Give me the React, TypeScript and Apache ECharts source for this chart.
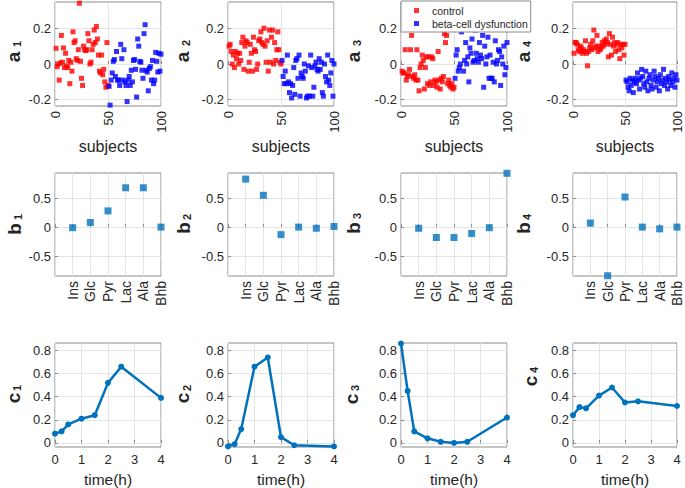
import React, { useEffect, useRef } from "react";
import * as echarts from "echarts";

// ---------- data ----------
const a1Control = [0.088, -0.015, 0.0, -0.09, 0.005, 0.16, 0.01, 0.09, -0.02, 0.06, -0.01, -0.02, 0.02, -0.11, 0.01, -0.04, 0.18, 0.12, 0.13, 0.03, 0.02, 0.08, 0.34, 0.015, -0.08, -0.12, 0.1, 0.08, 0.075, 0.08, 0.17, 0.13, 0.0, 0.01, 0.08, 0.11, 0.19, 0.12, 0.21, 0.14, 0.05, -0.04, -0.05, 0.05, -0.06, -0.03, -0.1, -0.13, 0.12, -0.12];
const a1Dysfunction = [-0.125, -0.23, -0.09, -0.05, 0.015, 0.025, -0.07, 0.07, -0.09, -0.09, -0.12, 0.11, 0.03, -0.09, 0.08, -0.1, -0.12, -0.21, -0.09, -0.07, -0.12, -0.035, -0.1, 0.02, 0.025, -0.03, -0.185, 0.14, 0.1, 0.015, 0.01, -0.035, -0.08, 0.17, 0.22, -0.035, -0.045, -0.15, -0.025, -0.015, -0.09, 0.02, -0.11, -0.09, 0.065, 0.015, -0.045, 0.06, -0.04, 0.055];
const a2Control = [0.10, 0.11, 0.07, 0.00, 0.05, -0.02, 0.07, 0.03, 0.06, 0.0, 0.06, 0.02, 0.12, 0.15, -0.03, 0.10, 0.13, 0.12, -0.04, 0.01, 0.11, 0.06, -0.04, 0.15, 0.08, 0.07, -0.03, 0.0, 0.13, 0.14, 0.18, 0.12, 0.11, 0.2, 0.1, 0.01, 0.13, -0.04, 0.19, 0.01, 0.15, 0.19, 0.0, 0.12, 0.02, 0.08, 0.18, 0.08, 0.01, 0.0];
const a2Dysfunction = [0.02, -0.07, -0.11, -0.04, -0.11, 0.05, -0.1, -0.16, -0.11, -0.19, -0.12, -0.02, -0.17, 0.02, 0.03, -0.08, 0.05, -0.18, -0.05, -0.07, -0.08, 0.0, -0.04, -0.19, -0.18, -0.01, -0.18, 0.05, -0.02, -0.18, -0.13, -0.01, 0.01, -0.03, -0.04, 0.03, -0.03, 0.01, -0.16, -0.18, 0.0, -0.07, -0.1, 0.05, -0.09, -0.12, -0.05, 0.02, -0.18, 0.0];
const a3Control = [-0.04, -0.05, -0.05, 0.08, -0.09, -0.07, -0.06, -0.03, 0.08, 0.16, -0.07, -0.08, -0.06, -0.09, 0.08, -0.09, -0.15, -0.02, 0.0, 0.05, 0.02, -0.14, -0.02, 0.04, -0.11, 0.04, -0.12, -0.1, 0.04, 0.03, -0.12, -0.09, -0.1, -0.13, 0.07, -0.09, -0.14, -0.08, -0.1, -0.07, 0.17, 0.12, 0.16, -0.11, -0.09, -0.12, -0.13, -0.11, -0.14, -0.13];
const a3Dysfunction = [-0.08, 0.05, 0.08, -0.04, -0.02, 0.0, 0.18, 0.2, -0.04, 0.02, 0.12, 0.0, 0.04, -0.1, 0.09, 0.06, 0.14, 0.01, 0.02, 0.19, 0.06, 0.03, 0.01, 0.12, 0.05, 0.03, 0.16, -0.13, 0.1, 0.0, 0.04, 0.15, -0.08, 0.05, -0.08, -0.08, 0.01, -0.1, 0.13, 0.0, 0.02, 0.08, 0.07, -0.12, 0.04, 0.0, 0.1, -0.06, -0.02, 0.12];
const a4Control = [0.06, 0.12, 0.12, 0.11, 0.08, 0.07, 0.1, 0.09, 0.06, 0.08, 0.07, 0.13, 0.06, -0.01, 0.07, 0.09, 0.11, 0.08, 0.13, 0.19, 0.09, 0.1, 0.16, 0.07, 0.1, 0.08, 0.09, 0.12, 0.1, 0.13, 0.11, 0.14, 0.12, 0.04, 0.17, 0.11, 0.05, 0.15, 0.1, 0.12, 0.07, 0.11, 0.12, 0.08, 0.03, 0.11, 0.09, 0.11, 0.05, 0.11];
const a4Dysfunction = [-0.09, -0.1, -0.13, -0.15, -0.08, -0.12, -0.09, -0.16, -0.1, -0.08, -0.11, -0.05, -0.09, -0.14, -0.08, -0.03, -0.07, -0.11, -0.13, -0.04, -0.1, -0.15, -0.08, -0.06, -0.12, -0.14, -0.09, -0.04, -0.07, -0.13, -0.1, -0.08, -0.15, -0.06, -0.11, -0.09, -0.03, -0.12, -0.08, -0.1, -0.14, -0.07, -0.09, -0.12, -0.05, -0.1, -0.08, -0.13, -0.06, -0.09];

const metabolites = ["Ins", "Glc", "Pyr", "Lac", "Ala", "Bhb"];
const b1 = [-0.01, 0.08, 0.28, 0.68, 0.68, 0.0];
const b2 = [0.83, 0.55, -0.13, 0.0, -0.02, 0.01];
const b3 = [-0.02, -0.18, -0.18, -0.11, -0.01, 0.93];
const b4 = [0.07, -0.84, 0.52, 0.0, -0.03, 0.0];

const times = [0, 0.25, 0.5, 1, 1.5, 2, 2.5, 4];
const c1 = [0.08, 0.10, 0.16, 0.21, 0.24, 0.52, 0.66, 0.39];
const c2 = [-0.03, -0.01, 0.12, 0.66, 0.74, 0.05, -0.02, -0.03];
const c3 = [0.86, 0.45, 0.10, 0.04, 0.01, 0.0, 0.01, 0.22];
const c4 = [0.24, 0.31, 0.30, 0.41, 0.48, 0.35, 0.36, 0.32];

const aTicks = [-0.2, 0, 0.2];
const bTicks = [-0.5, 0, 0.5];
const cTicks = [0, 0.2, 0.4, 0.6, 0.8];

const controlName = "control";
const dysName = "beta-cell dysfunction";

// ---------- styles ----------
const FONT = "'Liberation Sans', Arial, Helvetica, sans-serif";
const TEXT = "#262626";
const FRAME = "#8a8a8a";
const GRID = "#e4e4e4";
const BLUE = "#0072BD";

const lefts = [55, 228, 401, 573];
const widths = [106, 106, 106, 104];
const rows = [
  { top: 2, height: 104 },
  { top: 173, height: 103 },
  { top: 343, height: 104 },
];

export default function App() {
  const ref = useRef<HTMLDivElement>(null);
  useEffect(() => {
    if (!ref.current) return;
    const chart = echarts.init(ref.current, null, { renderer: "svg" });

    const grids: any[] = [];
    const xAxes: any[] = [];
    const yAxes: any[] = [];
    const series: any[] = [];

    const aSets = [
      [a1Control, a1Dysfunction],
      [a2Control, a2Dysfunction],
      [a3Control, a3Dysfunction],
      [a4Control, a4Dysfunction],
    ];
    const bSets = [b1, b2, b3, b4];
    const cSets = [c1, c2, c3, c4];

    const tickStyle = { inside: true, length: 3, lineStyle: { color: FRAME } };
    const labelBase = { fontSize: 13, color: TEXT, fontFamily: FONT };
    const split = { show: true, lineStyle: { color: GRID, width: 1 } };

    for (let r = 0; r < 3; r++) {
      for (let k = 0; k < 4; k++) {
        const idx = r * 4 + k;
        grids.push({
          left: lefts[k],
          top: rows[r].top,
          width: widths[k],
          height: rows[r].height,
          show: true,
          borderColor: FRAME,
          borderWidth: 1,
          backgroundColor: "transparent",
          containLabel: false,
          outerBoundsMode: "none",
        });
        if (r === 0) {
          xAxes.push({
            type: "value", gridIndex: idx, min: 0, max: 100, interval: 50,
            axisLine: { show: false }, axisTick: tickStyle,
            axisLabel: { ...labelBase, rotate: 90, margin: 5 },
            splitLine: split,
            name: "subjects", nameLocation: "middle", nameGap: 32,
            nameTextStyle: { fontSize: 16, color: TEXT, fontFamily: FONT },
          });
          yAxes.push({
            type: "value", gridIndex: idx, min: -0.235, max: 0.347,
            axisLine: { show: false },
            axisTick: { ...tickStyle, customValues: aTicks },
            axisLabel: { ...labelBase, margin: 4, customValues: aTicks },
            splitLine: split,
          });
          const [ctrl, dys] = aSets[k];
          series.push({
            type: "scatter", name: controlName, xAxisIndex: idx, yAxisIndex: idx,
            data: ctrl.map((v, i) => [i + 1, v]),
            symbol: "rect", symbolSize: 5, itemStyle: { color: "#ff0000" }, clip: false,
          });
          series.push({
            type: "scatter", name: dysName, xAxisIndex: idx, yAxisIndex: idx,
            data: dys.map((v, i) => [i + 51, v]),
            symbol: "rect", symbolSize: 5, itemStyle: { color: "#0000ff" }, clip: false,
          });
        } else if (r === 1) {
          xAxes.push({
            type: "value", gridIndex: idx, min: 0, max: 6, interval: 1,
            axisLine: { show: false }, axisTick: tickStyle,
            axisLabel: {
              ...labelBase, fontSize: 14, rotate: 90, margin: 5,
              formatter: (v: number) => metabolites[Math.round(v) - 1] ?? "",
            },
            splitLine: split,
          });
          yAxes.push({
            type: "value", gridIndex: idx, min: -0.845, max: 0.935,
            axisLine: { show: false },
            axisTick: { ...tickStyle, customValues: bTicks },
            axisLabel: { ...labelBase, margin: 4, customValues: bTicks },
            splitLine: split,
          });
          series.push({
            type: "scatter", name: "b" + (k + 1), xAxisIndex: idx, yAxisIndex: idx,
            data: bSets[k].map((v, i) => [i + 1, v]),
            symbol: "rect", symbolSize: 7, itemStyle: { color: BLUE }, clip: false,
          });
        } else {
          xAxes.push({
            type: "value", gridIndex: idx, min: 0, max: 4, interval: 1,
            axisLine: { show: false }, axisTick: tickStyle,
            axisLabel: { ...labelBase, margin: 6 },
            splitLine: split,
            name: "time(h)", nameLocation: "middle", nameGap: 24,
            nameTextStyle: { fontSize: 15.5, color: TEXT, fontFamily: FONT },
          });
          yAxes.push({
            type: "value", gridIndex: idx, min: -0.035, max: 0.865,
            axisLine: { show: false },
            axisTick: { ...tickStyle, customValues: cTicks },
            axisLabel: { ...labelBase, margin: 4, customValues: cTicks },
            splitLine: split,
          });
          series.push({
            type: "line", name: "c" + (k + 1), xAxisIndex: idx, yAxisIndex: idx,
            data: times.map((t, i) => [t, cSets[k][i]]),
            symbol: "circle", symbolSize: 6, showSymbol: true,
            lineStyle: { color: BLUE, width: 2.5 }, itemStyle: { color: BLUE },
            clip: false,
          });
        }
      }
    }

    // y-axis labels (letter + subscript), rotated
    const ylabels: [string, string, number, number, number, number][] = [
      ["a", "1", 13, 57, 17, 44],
      ["a", "2", 182, 57, 186, 43],
      ["a", "3", 353, 57, 357, 43],
      ["a", "4", 523, 57, 527, 44],
      ["b", "1", 14, 229, 17.5, 217],
      ["b", "2", 183, 228, 186.5, 217],
      ["b", "3", 353, 228, 356.5, 216],
      ["b", "4", 523, 228, 526.5, 217],
      ["c", "1", 13, 398, 17, 388],
      ["c", "2", 182.5, 398, 186.5, 388],
      ["c", "3", 351, 399, 355, 388],
      ["c", "4", 530, 381, 534, 370],
    ];
    const graphic: any[] = [];
    ylabels.forEach(([l, s, x, y, sx, sy]) => {
      graphic.push({
        type: "text", x, y, rotation: Math.PI / 2, z: 10,
        style: { text: l, fontSize: 19, fontWeight: "bold", fill: TEXT, fontFamily: FONT, align: "center", verticalAlign: "middle" },
      });
      graphic.push({
        type: "text", x: sx, y: sy, rotation: Math.PI / 2, z: 10,
        style: { text: s, fontSize: 11, fontWeight: "bold", fill: TEXT, fontFamily: FONT, align: "center", verticalAlign: "middle" },
      });
    });

    chart.setOption({
      animation: false,
      textStyle: { fontFamily: FONT },
      grid: grids,
      xAxis: xAxes,
      yAxis: yAxes,
      series,
      graphic,
      legend: {
        data: [
          { name: controlName, icon: "rect" },
          { name: dysName, icon: "rect" },
        ],
        orient: "vertical",
        left: 401,
        top: 1,
        padding: [3, 3, 2, 13],
        itemGap: 0,
        itemWidth: 5,
        itemHeight: 5,
        backgroundColor: "#ffffff",
        borderColor: FRAME,
        borderWidth: 1,
        borderRadius: 0,
        z: 20,
        textStyle: { fontSize: 10.5, color: TEXT, fontFamily: FONT, padding: [0, 0, 0, 8], lineHeight: 13 },
        selectedMode: false,
      },
    });
    return () => chart.dispose();
  }, []);
  return (
    <div
      ref={ref}
      style={{ position: "absolute", left: 0, top: 0, width: 685, height: 488, background: "#fff" }}
    />
  );
}
